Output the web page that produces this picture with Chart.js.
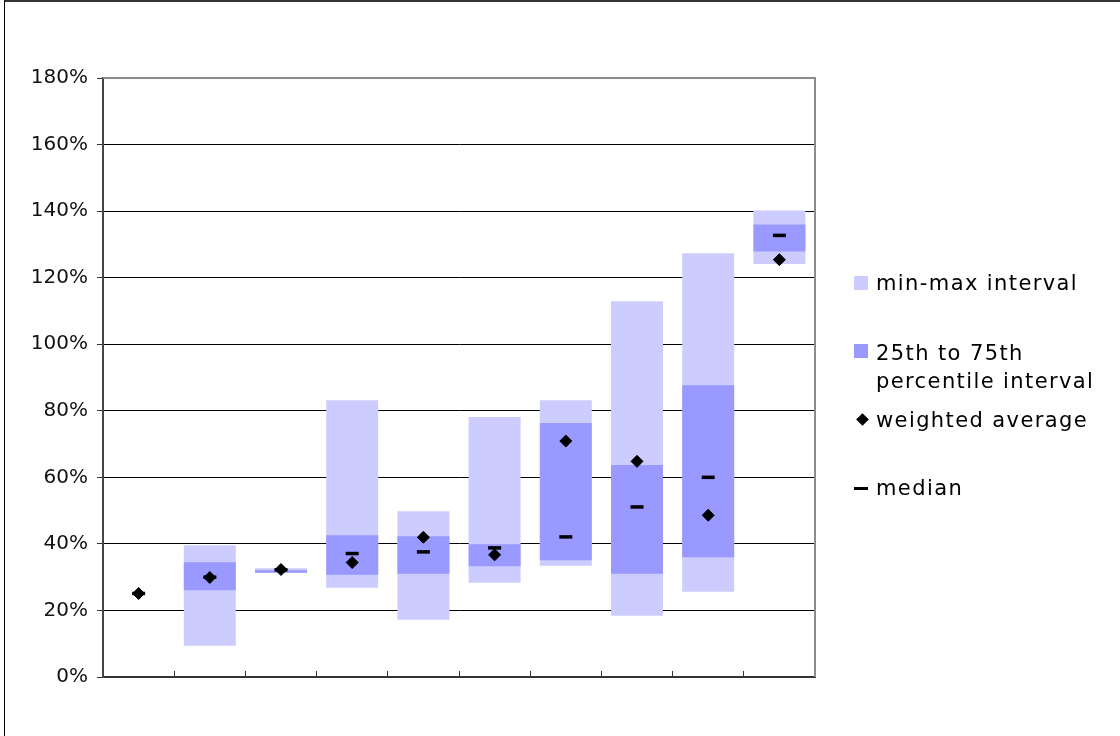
<!DOCTYPE html>
<html>
<head>
<meta charset="utf-8">
<script src="https://cdn.jsdelivr.net/npm/chart.js@4"></script>
<style>
  body { margin: 0; background: #fff; }
  #wrap { position: relative; width: 1120px; height: 736px; overflow: hidden; }
  #frame { position: absolute; left: 4px; top: 0; width: 1200px; height: 800px;
           border-left: 1px solid #000; border-top: 2px solid #333; }
  #legend { position: absolute; left: 854px; top: 0; font-family: "DejaVu Sans", Verdana, sans-serif;
            font-size: 21px; letter-spacing: 1.4px; color: #000; }
  .item { position: absolute; left: 0; white-space: nowrap; }
  .item span.txt { position: absolute; left: 22px; top: 0; line-height: 28px; }
  .sq { position: absolute; left: 0; width: 14px; height: 14px; }
  .dia { position: absolute; left: 4px; width: 9px; height: 9px; background: #000; transform: rotate(45deg); }
  .dash { position: absolute; left: 0; width: 14px; height: 3px; background: #000; }
</style>
</head>
<body>
<div id="wrap">
  <canvas id="boxStats"></canvas>
  <div id="frame"></div>
  <div id="legend">
    <div class="item" style="top:269px"><div class="sq" style="top:7px;background:#ccccff"></div><span class="txt">min-max interval</span></div>
    <div class="item" style="top:339px"><div class="sq" style="top:5px;background:#9999ff"></div><span class="txt">25th to 75th<br>percentile interval</span></div>
    <div class="item" style="top:406px"><div class="dia" style="top:9px"></div><span class="txt">weighted average</span></div>
    <div class="item" style="top:474px"><div class="dash" style="top:13px"></div><span class="txt">median</span></div>
  </div>
</div>
<script>
const labels = ['', '', '', '', '', '', '', '', '', ''];
const minVals = [null, 9.4, 31.3, 26.8, 17.2, 28.3, 33.4, 18.4, 25.6, 124.1];
const maxVals = [null, 39.6, 32.7, 83.2, 49.8, 78.1, 83.2, 112.9, 127.3, 140.2];
const p25 = [null, 26.1, 31.3, 30.7, 31.0, 33.3, 35.1, 31.0, 36.0, 127.9];
const p75 = [null, 34.5, 32.1, 42.6, 42.3, 39.9, 76.3, 63.7, 87.7, 136.0];
const weightedAvg = [25.1, 29.9, 32.3, 34.4, 42.0, 36.7, 70.9, 64.8, 48.6, 125.4];
const medians = [25.1, 30.0, 32.2, 37.1, 37.6, 38.8, 42.1, 51.1, 60.0, 132.7];
const yTicks = [0, 20, 40, 60, 80, 100, 120, 140, 160, 180];

function range(lo, hi) {
  return lo.map(function (v, i) { return v === null ? null : [v, hi[i]]; });
}

const plotBorder = {
  id: 'plotBorder',
  afterDraw(chart) {
    const a = chart.chartArea;
    const ctx = chart.ctx;
    ctx.save();
    ctx.strokeStyle = '#8c8c8c';
    ctx.lineWidth = 2;
    ctx.beginPath();
    ctx.moveTo(a.left, a.top);
    ctx.lineTo(a.right, a.top);
    ctx.lineTo(a.right, a.bottom);
    ctx.stroke();
    ctx.restore();
  }
};

function boxChart() {
  const ctx = document.getElementById('boxStats');

  new Chart(ctx, {
    type: 'bar',
    data: {
      labels: labels,
      datasets: [{
        type: 'line',
        label: 'weighted average',
        data: weightedAvg,
        showLine: false,
        pointStyle: 'rectRot',
        pointRadius: 6,
        pointBorderWidth: 1,
        pointBackgroundColor: '#000',
        pointBorderColor: '#000',
        order: 0
      }, {
        type: 'line',
        label: 'median',
        data: medians,
        showLine: false,
        pointStyle: 'line',
        pointRadius: 6.5,
        pointBorderWidth: 3.5,
        pointBorderColor: '#000',
        order: 1
      }, {
        label: '25th to 75th percentile interval',
        data: range(p25, p75),
        backgroundColor: '#9999ff',
        grouped: false,
        barPercentage: 0.73,
        categoryPercentage: 1,
        order: 2
      }, {
        label: 'min-max interval',
        data: range(minVals, maxVals),
        backgroundColor: '#ccccff',
        grouped: false,
        barPercentage: 0.73,
        categoryPercentage: 1,
        order: 3
      }]
    },
    options: {
      responsive: true,
      maintainAspectRatio: false,
      animation: false,
      layout: { padding: { left: 0, top: 78, right: 305, bottom: 0 } },
      plugins: {
        legend: { display: false },
        tooltip: { enabled: false }
      },
      scales: {
        x: {
          offset: true,
          ticks: { display: false },
          grid: {
            offset: true,
            drawOnChartArea: false,
            drawTicks: true,
            tickLength: -6,
            color: '#333',
            lineWidth: 1
          },
          border: { display: true, color: '#333', width: 2 },
          afterFit(scale) { scale.height = 59; }
        },
        y: {
          min: 0,
          max: 180,
          afterBuildTicks(scale) {
            scale.ticks = yTicks.map(function (v) { return { value: v }; });
          },
          ticks: {
            padding: 9,
            color: '#111',
            font: { family: 'DejaVu Sans', size: 20 },
            callback: function (v) { return v + '%'; }
          },
          grid: {
            color: '#000',
            lineWidth: 1,
            tickLength: 6,
            tickColor: '#333'
          },
          border: { display: true, color: '#444', width: 2 },
          afterFit(scale) { scale.width = 103; }
        }
      }
    },
    plugins: [plotBorder]
  });
}

boxChart();
</script>
</body>
</html>
